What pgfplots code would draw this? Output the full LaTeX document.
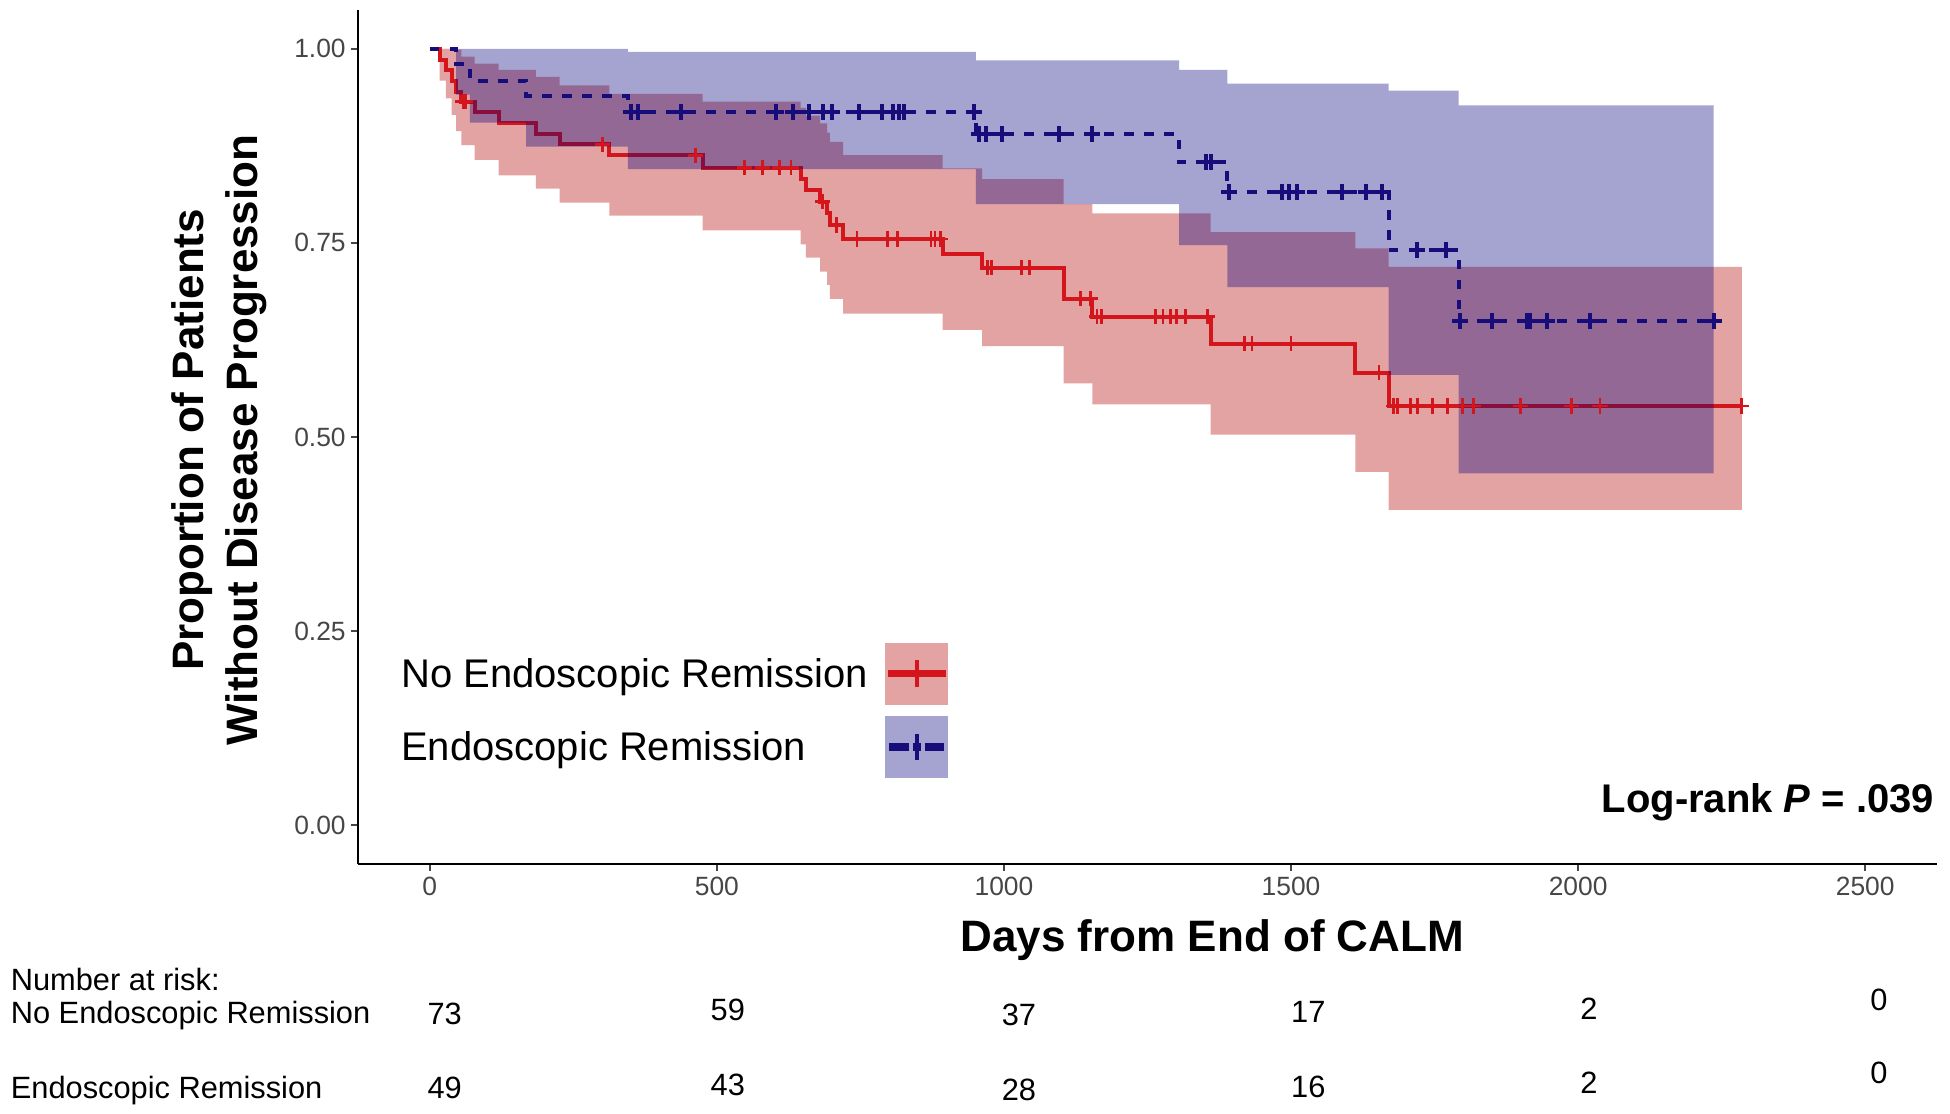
\documentclass[border=0pt]{standalone}
\usepackage{fontspec}
\setmainfont{Liberation Sans}
\usepackage{pgfplots}
\pgfplotsset{compat=1.18}
\usepgfplotslibrary{fillbetween}

\definecolor{redline}{RGB}{212,22,28}
\definecolor{blueline}{RGB}{22,12,122}
\definecolor{redfill}{RGB}{180,0,0}
\definecolor{bluefill}{RGB}{5,0,124}
\definecolor{tickgray}{RGB}{70,70,70}

\begin{document}
\begin{tikzpicture}
\begin{axis}[
    name=ax,
    scale only axis,
    width=394.75pt, height=213.5pt,
    xmin=-125, xmax=2625,
    ymin=-0.05, ymax=1.05,
    axis lines=left,
    axis line style={black, line width=0.6pt, -},
    xtick={0,500,1000,1500,2000,2500},
    ytick={0,0.25,0.5,0.75,1},
    yticklabels={0.00,0.25,0.50,0.75,1.00},
    tick align=outside,
    major tick length=1.75pt,
    tick style={tickgray, line width=0.5pt},
    ticklabel style={font=\fontsize{6.6}{8}\selectfont, text=tickgray},
    xticklabel style={yshift=1.9pt},
    yticklabel style={xshift=2.2pt},
    /pgf/number format/assume math mode=true,
    /pgf/number format/1000 sep={},
    xlabel={Days from End of CALM},
    xlabel style={at={(axis description cs:0.541,0)}, anchor=center, yshift=-19pt,
        font=\bfseries\fontsize{11}{13}\selectfont},
    ylabel={Proportion of Patients\\Without Disease Progression},
    ylabel style={at={(axis description cs:0,0.4965)}, anchor=center, yshift=34.75pt,
        align=center, font=\bfseries\fontsize{11}{13.4}\selectfont},
    clip=false,
    legend plot pos=right,
    legend cell align=left,
    legend style={at={(axis description cs:0.0269,0.26)}, anchor=north west,
        draw=none, fill=none, inner sep=0pt, row sep=2.8pt, column sep=4pt,
        nodes={inner sep=0pt}, font=\fontsize{10}{12}\selectfont},
]

% no endoscopic remission: confidence band
\addplot[name path=ru, draw=none, const plot, forget plot] coordinates {
    (0,1) (46,0.999) (55,0.990) (78,0.981) (120,0.973) (185,0.964) (226,0.953)
    (313,0.942) (475,0.932) (646,0.924) (655,0.914) (680,0.904) (692,0.892)
    (697,0.880) (720,0.863) (893,0.846) (962,0.832) (1104,0.800) (1154,0.788)
    (1360,0.764) (1612,0.743) (1670,0.719) (2285,0.719)
};
\addplot[name path=rl, draw=none, const plot, forget plot] coordinates {
    (0,1) (17,0.959) (28,0.936) (38,0.915) (46,0.894) (55,0.876) (78,0.857)
    (120,0.837) (185,0.820) (226,0.802) (313,0.785) (475,0.766) (646,0.748)
    (655,0.731) (680,0.713) (692,0.696) (697,0.678) (720,0.659) (893,0.638)
    (962,0.617) (1104,0.569) (1154,0.542) (1360,0.503) (1612,0.455)
    (1670,0.406) (2285,0.406)
};
\addplot[redfill, fill opacity=0.36, draw=none, forget plot] fill between[of=ru and rl];

% no endoscopic remission: curve
\addplot[redline, line width=1pt, const plot, forget plot] coordinates {
    (0,1) (17,0.986) (28,0.973) (38,0.959) (46,0.945) (55,0.932) (78,0.918)
    (120,0.904) (185,0.890) (226,0.877) (313,0.863) (475,0.847) (646,0.832)
    (655,0.818) (680,0.803) (692,0.788) (697,0.773) (720,0.755) (893,0.736)
    (962,0.718) (1104,0.678) (1154,0.655) (1360,0.620) (1612,0.583)
    (1670,0.540) (2285,0.540)
};

% endoscopic remission: confidence band (upper edge forward, lower edge back)
\addplot[fill=bluefill, fill opacity=0.36, draw=none, forget plot] coordinates {
    (0,1) (345,1) (345,0.996) (951,0.996) (951,0.985) (1305,0.985) (1305,0.973)
    (1389,0.973) (1389,0.955) (1670,0.955) (1670,0.946) (1792,0.946)
    (1792,0.927) (2236,0.927)
    (2236,0.453) (1792,0.453) (1792,0.580) (1670,0.580) (1670,0.693)
    (1389,0.693) (1389,0.747) (1305,0.747) (1305,0.800) (951,0.800)
    (951,0.845) (345,0.845) (345,0.874) (168,0.874) (168,0.905) (70,0.905)
    (70,0.941) (46,0.941) (46,1) (0,1)
};

% endoscopic remission: curve
\addplot[blueline, line width=1pt, dash pattern=on 2.4pt off 2.6pt, const plot, forget plot] coordinates {
    (0,1) (46,0.980) (70,0.959) (168,0.939) (345,0.918) (951,0.890) (1305,0.854)
    (1389,0.816) (1670,0.741) (1792,0.649) (2236,0.649)
};

% censoring marks
\addplot[only marks, mark=+, mark size=1.9pt, redline, mark options={line width=0.7pt}, forget plot] coordinates {
    (58,0.932) (62,0.932) (301,0.877) (463,0.863) (548,0.847) (580,0.847)
    (609,0.847) (629,0.847) (684,0.803) (709,0.773) (744,0.755) (797,0.755)
    (815,0.755) (873,0.755) (880,0.755) (890,0.755) (971,0.718) (978,0.718)
    (1030,0.718) (1045,0.718) (1133,0.678) (1151,0.678) (1162,0.655)
    (1170,0.655) (1264,0.655) (1277,0.655) (1290,0.655) (1300,0.655)
    (1316,0.655) (1355,0.655) (1419,0.620) (1432,0.620) (1500,0.620)
    (1653,0.583) (1679,0.540) (1685,0.540) (1708,0.540) (1720,0.540)
    (1746,0.540) (1772,0.540) (1798,0.540) (1818,0.540) (1899,0.540)
    (1989,0.540) (2038,0.540) (2285,0.540)
};
\addplot[only marks, mark=+, mark size=2pt, blueline, mark options={line width=1pt}, forget plot] coordinates {
    (350,0.918) (362,0.918) (437,0.918) (603,0.918) (632,0.918) (661,0.918)
    (684,0.918) (701,0.918) (748,0.918) (788,0.918) (806,0.918) (817,0.918)
    (826,0.918) (948,0.918) (956,0.890) (968,0.890) (997,0.890) (1096,0.890)
    (1154,0.890) (1351,0.854) (1360,0.854) (1392,0.816) (1485,0.816)
    (1497,0.816) (1511,0.816) (1589,0.816) (1630,0.816) (1658,0.816)
    (1720,0.741) (1769,0.741) (1795,0.649) (1850,0.649) (1911,0.649)
    (1917,0.649) (1946,0.649) (2021,0.649) (2236,0.649)
};

% legend
\addlegendimage{legend image code/.code={
    \fill[redfill, fill opacity=0.36, draw=none] (0pt,-7.15pt) rectangle (15.75pt,8.35pt);
    \draw[redline, line width=1.8pt] (0.6pt,0.6pt) -- (15.15pt,0.6pt);
    \draw[redline, line width=0.8pt] (7.9pt,-2.8pt) -- (7.9pt,4pt);
}}
\addlegendentry{No Endoscopic Remission}
\addlegendimage{legend image code/.code={
    \fill[bluefill, fill opacity=0.36, draw=none] (0pt,-7.15pt) rectangle (15.75pt,8.35pt);
    \draw[blueline, line width=1.8pt] (1pt,0.6pt) -- (5.8pt,0.6pt);
    \draw[blueline, line width=1.8pt] (7pt,0.6pt) -- (8.8pt,0.6pt);
    \draw[blueline, line width=1.8pt] (10pt,0.6pt) -- (14.6pt,0.6pt);
    \draw[blueline, line width=0.8pt] (7.9pt,-2.6pt) -- (7.9pt,3.8pt);
}}
\addlegendentry{Endoscopic Remission}

% log-rank test
\node[anchor=east, font=\bfseries\fontsize{10}{12}\selectfont, inner sep=0pt]
    at (axis description cs:0.9987,0.072) {Log-rank \textit{P} = .039};

% number at risk
\begin{scope}[every node/.style={font=\fontsize{7.7}{9}\selectfont, inner sep=0pt}]
\node[anchor=west] at (axis cs:-731,-0.1994) {Number at risk:};
\node[anchor=west] at (axis cs:-731,-0.2458) {No Endoscopic Remission};
\node[anchor=west] at (axis cs:-731,-0.3420) {Endoscopic Remission};
\node at (axis cs:26,-0.2426) {73};
\node at (axis cs:519,-0.2378) {59};
\node at (axis cs:1026,-0.2442) {37};
\node at (axis cs:1530,-0.2410) {17};
\node at (axis cs:2019,-0.2362) {2};
\node at (axis cs:2524,-0.2250) {0};
\node at (axis cs:26,-0.3388) {49};
\node at (axis cs:519,-0.3339) {43};
\node at (axis cs:1026,-0.3404) {28};
\node at (axis cs:1530,-0.3372) {16};
\node at (axis cs:2019,-0.3324) {2};
\node at (axis cs:2524,-0.3195) {0};
\end{scope}
\end{axis}
\pgfresetboundingbox
\path[use as bounding box] (ax.south west) ++(-89.5pt,-62.5pt) rectangle ++(487.5pt,278.5pt);
\end{tikzpicture}
\end{document}
